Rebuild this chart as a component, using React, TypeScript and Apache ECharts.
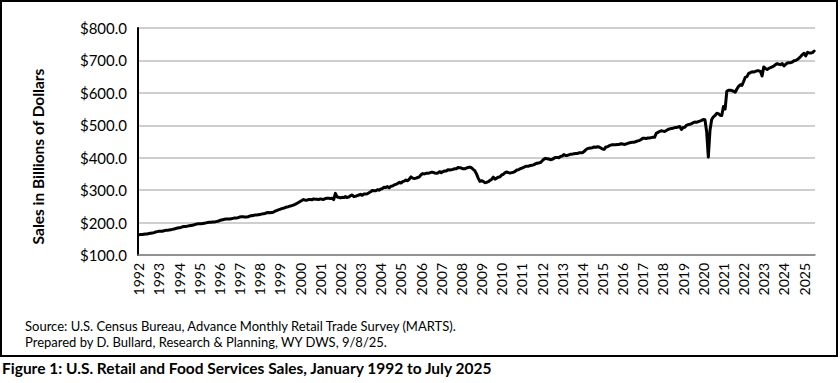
import React, { useEffect, useRef } from "react";
import * as echarts from "echarts";

const years = [
  1992, 1993, 1994, 1995, 1996, 1997, 1998, 1999, 2000, 2001, 2002, 2003,
  2004, 2005, 2006, 2007, 2008, 2009, 2010, 2011, 2012, 2013, 2014, 2015,
  2016, 2017, 2018, 2019, 2020, 2021, 2022, 2023, 2024, 2025,
];

// Monthly sales, billions of dollars, Jan 1992 - Jul 2025
const sales = [
  162, 163, 163, 164, 165, 165, 166, 167, 168, 169, 171, 172,
  173, 173, 173, 175, 176, 176, 177, 178, 179, 180, 182, 183,
  184, 185, 187, 188, 188, 189, 190, 191, 192, 193, 195, 196,
  196, 196, 197, 198, 199, 200, 201, 201, 202, 202, 203, 204,
  206, 208, 209, 210, 211, 211, 211, 212, 213, 214, 214, 215,
  217, 218, 218, 217, 217, 218, 220, 221, 222, 223, 223, 224,
  225, 226, 227, 228, 230, 231, 230, 231, 232, 235, 237, 239,
  241, 243, 244, 246, 248, 249, 251, 252, 254, 256, 259, 262,
  265, 268, 271, 269, 269, 271, 271, 270, 273, 272, 272, 271,
  273, 272, 271, 274, 275, 275, 274, 275, 271, 290, 279, 278,
  276, 278, 277, 280, 277, 279, 283, 285, 280, 281, 283, 285,
  287, 284, 288, 288, 289, 292, 295, 299, 298, 298, 301, 300,
  303, 305, 309, 308, 311, 307, 312, 313, 316, 318, 320, 324,
  322, 326, 328, 331, 329, 334, 341, 337, 336, 337, 339, 341,
  348, 351, 350, 352, 352, 353, 355, 355, 353, 352, 353, 357,
  354, 357, 359, 359, 363, 362, 363, 364, 366, 366, 370, 369,
  368, 366, 366, 368, 370, 371, 369, 364, 360, 350, 337, 327,
  329, 327, 323, 324, 326, 330, 333, 340, 334, 337, 340, 341,
  347, 349, 354, 356, 354, 353, 354, 355, 358, 362, 363, 366,
  368, 370, 373, 374, 374, 376, 377, 378, 381, 383, 384, 385,
  390, 395, 398, 397, 396, 394, 395, 398, 401, 401, 400, 404,
  405, 410, 407, 407, 409, 411, 411, 412, 413, 413, 415, 415,
  415, 419, 424, 428, 429, 430, 431, 433, 432, 434, 433, 430,
  427, 426, 433, 434, 437, 439, 440, 440, 440, 441, 441, 443,
  442, 441, 442, 444, 446, 447, 448, 448, 450, 452, 453, 456,
  460, 460, 459, 461, 461, 462, 463, 463, 475, 478, 481, 483,
  482, 481, 484, 487, 489, 490, 491, 493, 493, 495, 496, 487,
  493, 494, 500, 502, 503, 505, 508, 510, 509, 511, 513, 515,
  518, 517, 480, 402, 485, 518, 526, 530, 537, 536, 531, 530,
  558, 550, 605, 608, 608, 607, 605, 602, 612, 620, 625, 623,
  635, 648, 650, 660, 662, 665, 664, 666, 668, 668, 666, 652,
  680, 675, 672, 675, 678, 680, 683, 687, 690, 688, 687, 690,
  683, 688, 692, 693, 693, 695, 699, 700, 703, 707, 712, 718,
  722, 714, 725, 723, 723, 724, 729,
];

const yTitle = "Sales in Billions of Dollars";
const sourceLines = [
  "Source: U.S. Census Bureau, Advance Monthly Retail Trade Survey (MARTS).",
  "Prepared by D. Bullard, Research & Planning, WY DWS, 9/8/25.",
];
const caption =
  "Figure 1: U.S. Retail and Food Services Sales, January 1992 to July 2025";

const FONT = "Lato";

export default function App() {
  const ref = useRef<HTMLDivElement>(null);
  useEffect(() => {
    if (!ref.current) return;
    const chart = echarts.init(ref.current, undefined, { renderer: "svg" });
    const categories: string[] = [];
    years.forEach((y) => {
      for (let m = 1; m <= 12; m++) categories.push(`${y}-${m}`);
    });
    const cats = categories.slice(0, sales.length);
    chart.setOption({
      animation: false,
      backgroundColor: "#ffffff",
      textStyle: { fontFamily: FONT },
      grid: { left: 138, right: 25, top: 28, bottom: 128, containLabel: false },
      xAxis: {
        type: "category",
        data: cats,
        boundaryGap: true,
        axisLine: { show: true, lineStyle: { color: "#7f7f7f", width: 1.5 } },
        axisTick: { show: false },
        axisLabel: {
          interval: (i: number) => i % 12 === 0,
          formatter: (v: string) => v.split("-")[0],
          rotate: 90,
          margin: 8,
          color: "#000",
          fontFamily: FONT,
          fontSize: 14,
          padding: [8, 0, 0, 0],
        },
        splitLine: { show: false },
      },
      yAxis: {
        type: "value",
        min: 100,
        max: 800,
        interval: 100,
        axisLine: { show: true, lineStyle: { color: "#000", width: 2 } },
        axisTick: { show: false },
        axisLabel: {
          formatter: (v: number) => "$" + v.toFixed(1),
          color: "#000",
          fontFamily: FONT,
          fontSize: 15,
          margin: 11,
        },
        splitLine: { show: true, lineStyle: { color: "#bfbfbf", width: 1.5 } },
      },
      series: [
        {
          type: "line",
          data: sales,
          symbol: "none",
          lineStyle: { color: "#000", width: 3, join: "round", cap: "round" },
        },
      ],
      graphic: [
        {
          type: "rect",
          shape: { x: 1, y: 1, width: 836, height: 355 },
          style: { fill: "none", stroke: "#000", lineWidth: 2 },
          silent: true,
        },
        {
          type: "text",
          x: 38,
          y: 156.5,
          rotation: Math.PI / 2,
          style: {
            text: yTitle,
            fill: "#000",
            font: `bold 15.5px ${FONT}`,
            align: "center",
            verticalAlign: "middle",
          },
        },
        {
          type: "text",
          x: 25,
          y: 325.5,
          style: {
            text: sourceLines[0],
            fill: "#000",
            font: `13px ${FONT}`,
            align: "left",
            verticalAlign: "middle",
          },
        },
        {
          type: "text",
          x: 25,
          y: 341.5,
          style: {
            text: sourceLines[1],
            fill: "#000",
            font: `13px ${FONT}`,
            align: "left",
            verticalAlign: "middle",
          },
        },
        {
          type: "text",
          x: 2,
          y: 368,
          style: {
            text: caption,
            fill: "#000",
            font: `bold 15.5px ${FONT}`,
            align: "left",
            verticalAlign: "middle",
          },
        },
      ],
    });
    return () => chart.dispose();
  }, []);
  return (
    <div
      ref={ref}
      style={{ position: "absolute", left: 0, top: 0, width: 840, height: 383 }}
    />
  );
}
